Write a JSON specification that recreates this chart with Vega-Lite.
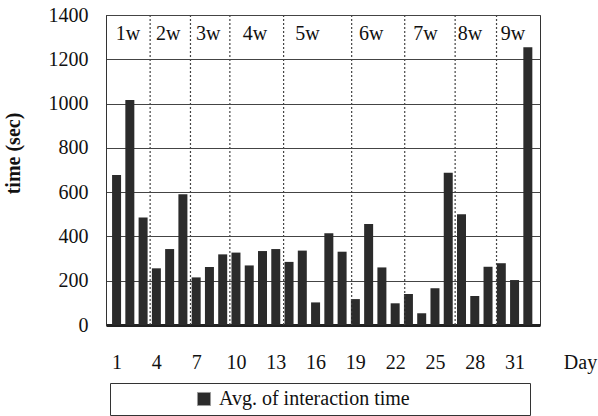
{
  "$schema": "https://vega.github.io/schema/vega-lite/v6.json",
  "width": 434,
  "height": 310,
  "autosize": {"type": "none"},
  "padding": {"left": 106, "top": 15, "right": 58, "bottom": 91},
  "background": "white",
  "config": {
    "font": "Liberation Serif",
    "view": {"stroke": "#333", "strokeWidth": 1},
    "text": {"font": "Liberation Serif"}
  },
  "datasets": {
    "days": [
      {"day": 1, "time": 677}, {"day": 2, "time": 1016}, {"day": 3, "time": 486}, {"day": 4, "time": 256},
      {"day": 5, "time": 343}, {"day": 6, "time": 590}, {"day": 7, "time": 215}, {"day": 8, "time": 262},
      {"day": 9, "time": 319}, {"day": 10, "time": 327}, {"day": 11, "time": 269}, {"day": 12, "time": 334},
      {"day": 13, "time": 343}, {"day": 14, "time": 285}, {"day": 15, "time": 336}, {"day": 16, "time": 102},
      {"day": 17, "time": 414}, {"day": 18, "time": 331}, {"day": 19, "time": 117}, {"day": 20, "time": 456},
      {"day": 21, "time": 260}, {"day": 22, "time": 98}, {"day": 23, "time": 140}, {"day": 24, "time": 53},
      {"day": 25, "time": 166}, {"day": 26, "time": 688}, {"day": 27, "time": 500}, {"day": 28, "time": 131},
      {"day": 29, "time": 263}, {"day": 30, "time": 279}, {"day": 31, "time": 203}, {"day": 32, "time": 1254}
    ],
    "dividers": [
      {"day": 3.53}, {"day": 6.57}, {"day": 9.54}, {"day": 13.59},
      {"day": 18.72}, {"day": 22.72}, {"day": 26.52}, {"day": 29.64}
    ],
    "weeks": [
      {"day": 1.86, "week": "1w"}, {"day": 4.89, "week": "2w"}, {"day": 7.91, "week": "3w"},
      {"day": 11.44, "week": "4w"}, {"day": 15.38, "week": "5w"}, {"day": 20.2, "week": "6w"},
      {"day": 24.29, "week": "7w"}, {"day": 27.64, "week": "8w"}, {"day": 30.88, "week": "9w"}
    ]
  },
  "layer": [
    {
      "data": {"name": "days"},
      "mark": {"type": "bar", "size": 9},
      "encoding": {
        "x": {
          "field": "day", "type": "quantitative",
          "scale": {"domain": [0.58, 32.54], "nice": false, "zero": false},
          "axis": {
            "title": "Day", "values": [1, 4, 7, 10, 13, 16, 19, 22, 25, 28, 31], "format": "d",
            "grid": false, "ticks": false, "domain": true, "domainColor": "#222", "domainWidth": 3,
            "labelFont": "Liberation Serif", "labelColor": "#111",
            "labelFontSize": 20, "labelPadding": 37, "labelBaseline": "middle", "labelFlush": false,
            "titleFont": "Liberation Serif", "titleColor": "#111",
            "titleFontSize": 20, "titleFontWeight": "normal", "titleX": 474, "titleY": 37,
            "titleAlign": "center", "titleBaseline": "middle", "titleAnchor": null
          }
        },
        "y": {
          "field": "time", "type": "quantitative",
          "scale": {"domain": [0, 1400], "nice": false},
          "axis": {
            "title": "time (sec)", "values": [0, 200, 400, 600, 800, 1000, 1200, 1400], "format": "d",
            "grid": true, "gridColor": "#444", "gridWidth": 1.2, "gridOpacity": 1,
            "ticks": false, "domain": true, "domainColor": "#333",
            "labelFont": "Liberation Serif", "labelColor": "#111",
            "labelFontSize": 20, "labelPadding": 18, "labelBaseline": "middle", "labelFlush": false,
            "titleFont": "Liberation Serif", "titleColor": "#111",
            "titleFontSize": 20, "titleFontWeight": "bold", "titleX": -93, "titleY": 138,
            "titleAlign": "center", "titleBaseline": "middle", "titleAngle": -90
          }
        },
        "color": {
          "datum": "Avg. of interaction time",
          "scale": {"range": ["#2b2b2b"]},
          "legend": {
            "title": "\u00a0", "titleOrient": "right", "titlePadding": 114, "titleFontSize": 20,
            "orient": "none", "legendX": 4, "legendY": 368,
            "direction": "horizontal", "strokeColor": "#333", "padding": 6,
            "symbolType": "square", "symbolSize": 170, "symbolOffset": 78,
            "symbolStrokeColor": "#999", "symbolStrokeWidth": 1,
            "labelFont": "Liberation Serif", "labelFontSize": 20, "labelColor": "#111",
            "labelOffset": 5, "labelLimit": 0
          }
        }
      }
    },
    {
      "data": {"name": "dividers"},
      "mark": {"type": "rule", "color": "#444", "strokeDash": [2, 2], "strokeWidth": 1.2},
      "encoding": {
        "x": {"field": "day", "type": "quantitative"}
      }
    },
    {
      "data": {"name": "weeks"},
      "mark": {"type": "text", "fontSize": 20, "baseline": "middle", "align": "center", "color": "#111", "font": "Liberation Serif"},
      "encoding": {
        "x": {"field": "day", "type": "quantitative"},
        "y": {"datum": 1316, "type": "quantitative"},
        "text": {"field": "week"}
      }
    }
  ]
}
